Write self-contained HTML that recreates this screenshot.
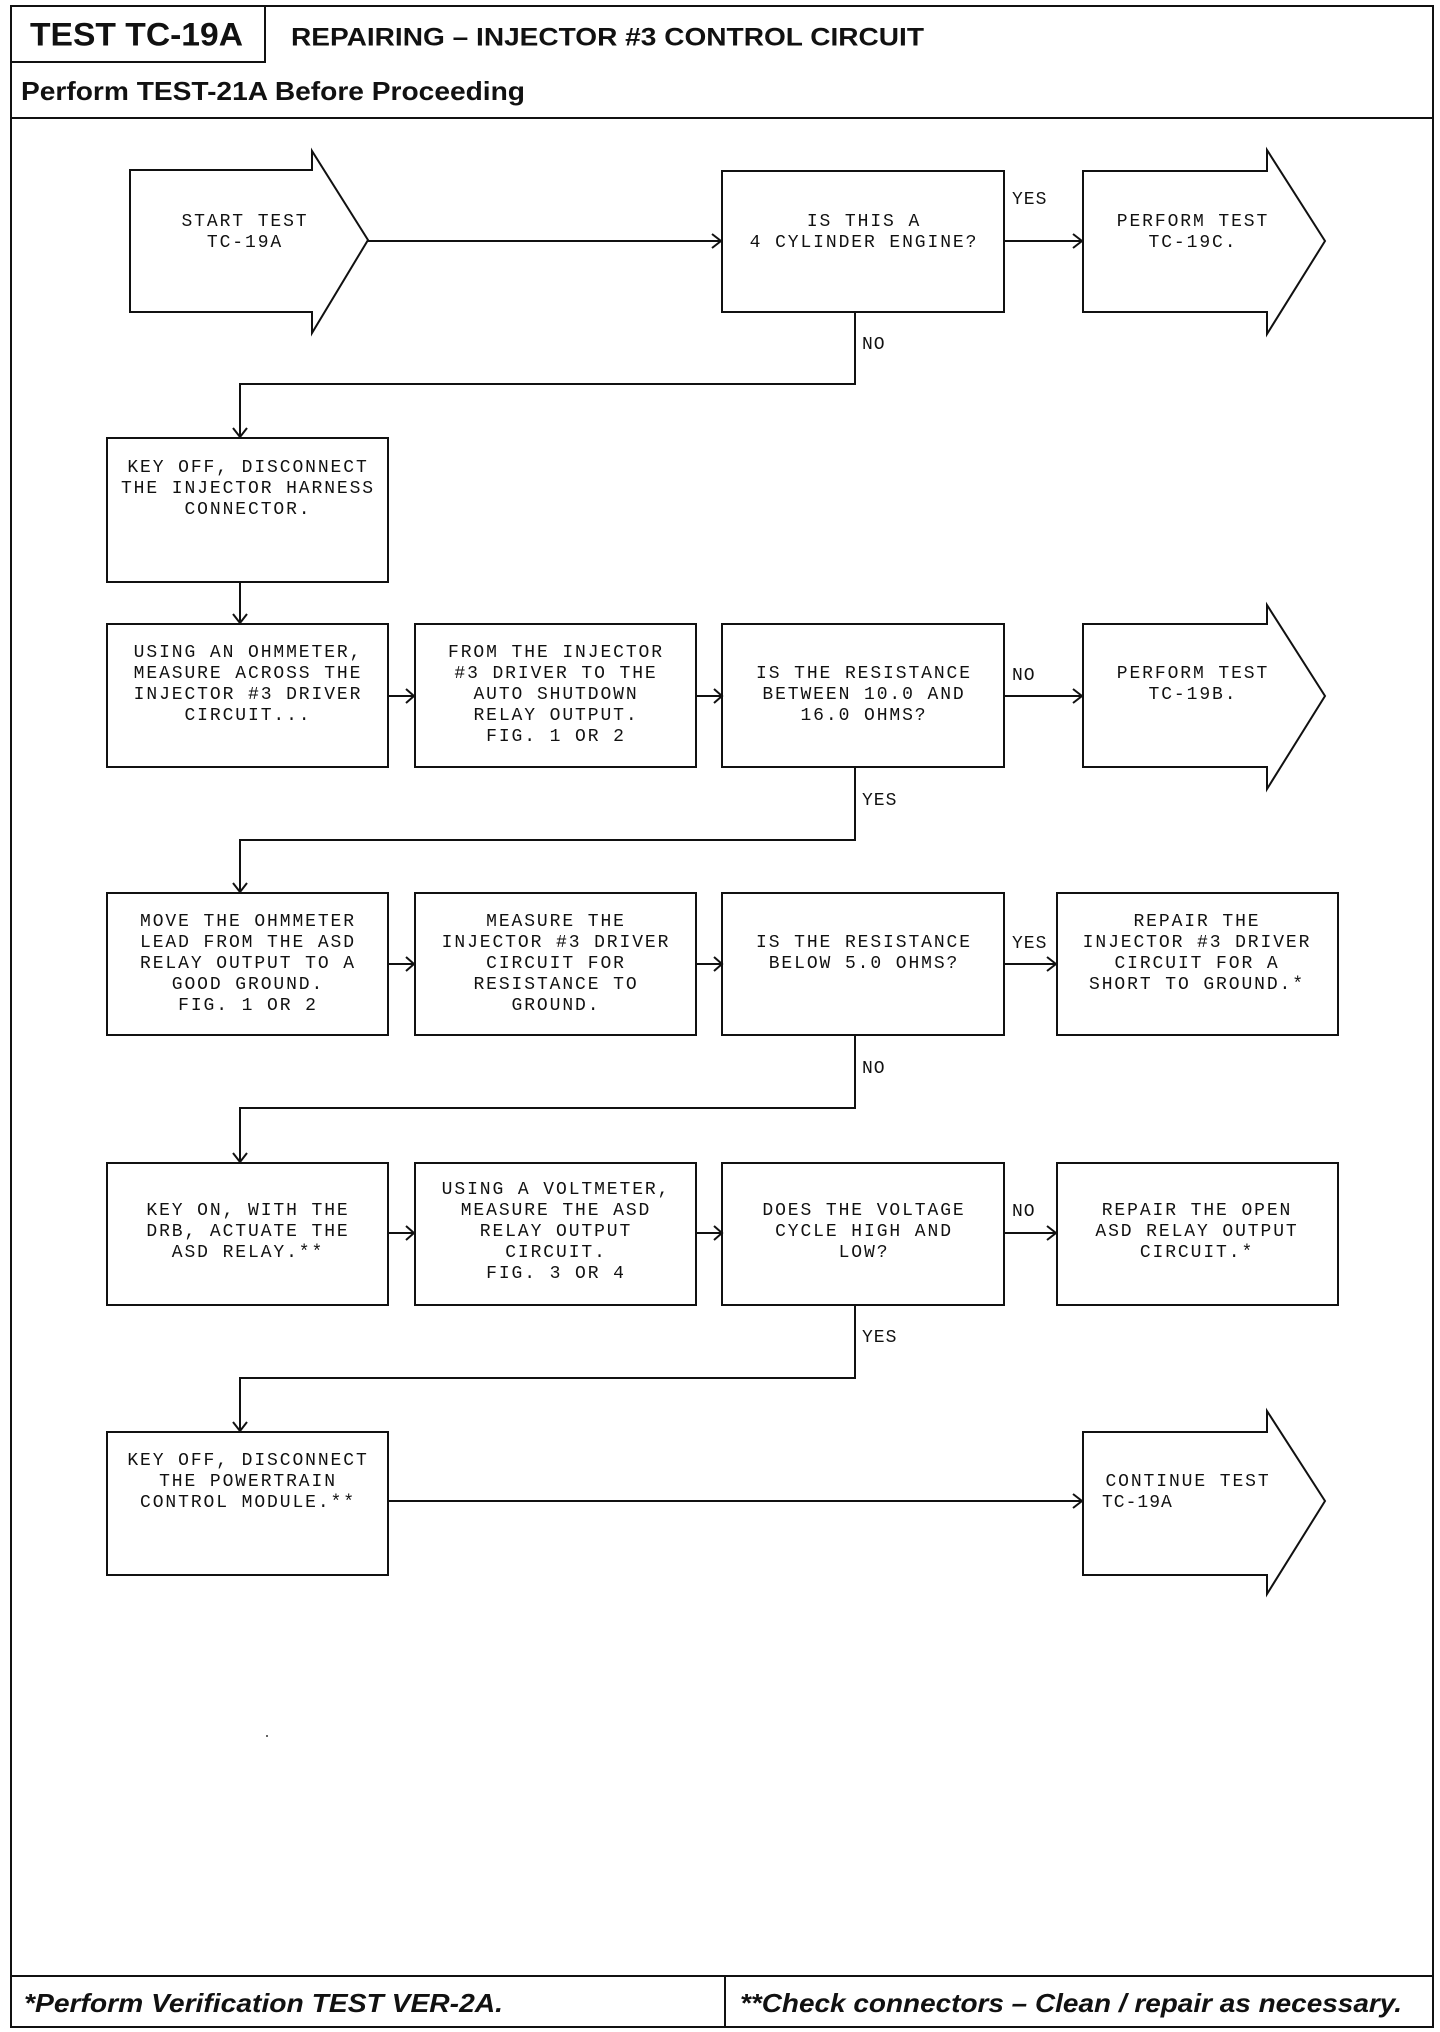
<!DOCTYPE html>
<html><head><meta charset="utf-8"><style>
html,body{margin:0;padding:0;background:#fff}
svg{display:block}
.t{font-family:"Liberation Mono",monospace;font-size:18px;letter-spacing:1.9px;fill:#111;text-anchor:middle;dominant-baseline:middle}
.l{font-family:"Liberation Mono",monospace;font-size:18px;letter-spacing:1px;fill:#111;dominant-baseline:middle}
.s{stroke:#111;stroke-width:2;fill:none}
.h{font-family:"Liberation Sans",sans-serif;font-weight:bold;fill:#111;dominant-baseline:middle}
</style></head><body>
<svg width="1440" height="2032" viewBox="0 0 1440 2032" xmlns="http://www.w3.org/2000/svg">
<!-- frame -->
<rect x="11" y="6" width="1422" height="2021" class="s" stroke-width="2.5"/>
<polyline points="11,62 265,62 265,6" class="s"/>
<line x1="11" y1="118" x2="1433" y2="118" class="s" stroke-width="3"/>
<line x1="11" y1="1976" x2="1433" y2="1976" class="s" stroke-width="3"/>
<line x1="725" y1="1976" x2="725" y2="2027" class="s"/>
<text class="h" x="30" y="37" font-size="32" textLength="213" lengthAdjust="spacingAndGlyphs">TEST TC-19A</text>
<text class="h" x="291" y="39" font-size="25" textLength="633" lengthAdjust="spacingAndGlyphs">REPAIRING – INJECTOR #3 CONTROL CIRCUIT</text>
<text class="h" x="21" y="93" font-size="26" textLength="504" lengthAdjust="spacingAndGlyphs">Perform TEST-21A Before Proceeding</text>
<text class="h" x="24" y="2005" font-size="26" font-style="italic" textLength="479" lengthAdjust="spacingAndGlyphs">*Perform Verification TEST VER-2A.</text>
<text class="h" x="740" y="2005" font-size="26" font-style="italic" textLength="662" lengthAdjust="spacingAndGlyphs">**Check connectors – Clean / repair as necessary.</text>

<!-- row 1 -->
<polygon points="130,170 312,170 312,151 368,240 312,333 312,312 130,312" class="s"/>
<text class="t" x="245" y="221">START TEST</text><text class="t" x="245" y="242">TC-19A</text>
<line x1="368" y1="241" x2="720" y2="241" class="s"/><polyline points="712,234 721,241 712,248" class="s"/>
<rect x="722" y="171" width="282" height="141" class="s"/>
<text class="t" x="864" y="221">IS THIS A</text><text class="t" x="864" y="242">4 CYLINDER ENGINE?</text>
<line x1="1004" y1="241" x2="1081" y2="241" class="s"/><polyline points="1073,234 1082,241 1073,248" class="s"/>
<text class="l" x="1012" y="199">YES</text>
<polygon points="1083,171 1267,171 1267,150 1325,241 1267,334 1267,312 1083,312" class="s"/>
<text class="t" x="1193" y="221">PERFORM TEST</text><text class="t" x="1193" y="242">TC-19C.</text>
<polyline points="855,312 855,384 240,384 240,436" class="s"/><polyline points="233,428 240,437 247,428" class="s"/>
<text class="l" x="862" y="344">NO</text>

<rect x="107" y="438" width="281" height="144" class="s"/>
<text class="t" x="248" y="467">KEY OFF, DISCONNECT</text><text class="t" x="248" y="488">THE INJECTOR HARNESS</text><text class="t" x="248" y="509">CONNECTOR.</text>
<line x1="240" y1="582" x2="240" y2="622" class="s"/><polyline points="233,614 240,623 247,614" class="s"/>

<!-- row 2 -->
<rect x="107" y="624" width="281" height="143" class="s"/>
<text class="t" x="248" y="652">USING AN OHMMETER,</text><text class="t" x="248" y="673">MEASURE ACROSS THE</text><text class="t" x="248" y="694">INJECTOR #3 DRIVER</text><text class="t" x="248" y="715">CIRCUIT...</text>
<line x1="388" y1="696" x2="413" y2="696" class="s"/><polyline points="406,689 414,696 406,703" class="s"/>
<rect x="415" y="624" width="281" height="143" class="s"/>
<text class="t" x="556" y="652">FROM THE INJECTOR</text><text class="t" x="556" y="673">#3 DRIVER TO THE</text><text class="t" x="556" y="694">AUTO SHUTDOWN</text><text class="t" x="556" y="715">RELAY OUTPUT.</text><text class="t" x="556" y="736">FIG. 1 OR 2</text>
<line x1="696" y1="696" x2="721" y2="696" class="s"/><polyline points="714,689 722,696 714,703" class="s"/>
<rect x="722" y="624" width="282" height="143" class="s"/>
<text class="t" x="864" y="673">IS THE RESISTANCE</text><text class="t" x="864" y="694">BETWEEN 10.0 AND</text><text class="t" x="864" y="715">16.0 OHMS?</text>
<line x1="1004" y1="696" x2="1081" y2="696" class="s"/><polyline points="1073,689 1082,696 1073,703" class="s"/>
<text class="l" x="1012" y="675">NO</text>
<polygon points="1083,624 1267,624 1267,605 1325,696 1267,789 1267,767 1083,767" class="s"/>
<text class="t" x="1193" y="673">PERFORM TEST</text><text class="t" x="1193" y="694">TC-19B.</text>
<polyline points="855,767 855,840 240,840 240,891" class="s"/><polyline points="233,883 240,892 247,883" class="s"/>
<text class="l" x="862" y="800">YES</text>

<!-- row 3 -->
<rect x="107" y="893" width="281" height="142" class="s"/>
<text class="t" x="248" y="921">MOVE THE OHMMETER</text><text class="t" x="248" y="942">LEAD FROM THE ASD</text><text class="t" x="248" y="963">RELAY OUTPUT TO A</text><text class="t" x="248" y="984">GOOD GROUND.</text><text class="t" x="248" y="1005">FIG. 1 OR 2</text>
<line x1="388" y1="964" x2="413" y2="964" class="s"/><polyline points="406,957 414,964 406,971" class="s"/>
<rect x="415" y="893" width="281" height="142" class="s"/>
<text class="t" x="556" y="921">MEASURE THE</text><text class="t" x="556" y="942">INJECTOR #3 DRIVER</text><text class="t" x="556" y="963">CIRCUIT FOR</text><text class="t" x="556" y="984">RESISTANCE TO</text><text class="t" x="556" y="1005">GROUND.</text>
<line x1="696" y1="964" x2="721" y2="964" class="s"/><polyline points="714,957 722,964 714,971" class="s"/>
<rect x="722" y="893" width="282" height="142" class="s"/>
<text class="t" x="864" y="942">IS THE RESISTANCE</text><text class="t" x="864" y="963">BELOW 5.0 OHMS?</text>
<line x1="1004" y1="964" x2="1055" y2="964" class="s"/><polyline points="1047,957 1056,964 1047,971" class="s"/>
<text class="l" x="1012" y="943">YES</text>
<rect x="1057" y="893" width="281" height="142" class="s"/>
<text class="t" x="1197" y="921">REPAIR THE</text><text class="t" x="1197" y="942">INJECTOR #3 DRIVER</text><text class="t" x="1197" y="963">CIRCUIT FOR A</text><text class="t" x="1197" y="984">SHORT TO GROUND.*</text>
<polyline points="855,1035 855,1108 240,1108 240,1161" class="s"/><polyline points="233,1153 240,1162 247,1153" class="s"/>
<text class="l" x="862" y="1068">NO</text>

<!-- row 4 -->
<rect x="107" y="1163" width="281" height="142" class="s"/>
<text class="t" x="248" y="1210">KEY ON, WITH THE</text><text class="t" x="248" y="1231">DRB, ACTUATE THE</text><text class="t" x="248" y="1252">ASD RELAY.**</text>
<line x1="388" y1="1233" x2="413" y2="1233" class="s"/><polyline points="406,1226 414,1233 406,1240" class="s"/>
<rect x="415" y="1163" width="281" height="142" class="s"/>
<text class="t" x="556" y="1189">USING A VOLTMETER,</text><text class="t" x="556" y="1210">MEASURE THE ASD</text><text class="t" x="556" y="1231">RELAY OUTPUT</text><text class="t" x="556" y="1252">CIRCUIT.</text><text class="t" x="556" y="1273">FIG. 3 OR 4</text>
<line x1="696" y1="1233" x2="721" y2="1233" class="s"/><polyline points="714,1226 722,1233 714,1240" class="s"/>
<rect x="722" y="1163" width="282" height="142" class="s"/>
<text class="t" x="864" y="1210">DOES THE VOLTAGE</text><text class="t" x="864" y="1231">CYCLE HIGH AND</text><text class="t" x="864" y="1252">LOW?</text>
<line x1="1004" y1="1233" x2="1055" y2="1233" class="s"/><polyline points="1047,1226 1056,1233 1047,1240" class="s"/>
<text class="l" x="1012" y="1211">NO</text>
<rect x="1057" y="1163" width="281" height="142" class="s"/>
<text class="t" x="1197" y="1210">REPAIR THE OPEN</text><text class="t" x="1197" y="1231">ASD RELAY OUTPUT</text><text class="t" x="1197" y="1252">CIRCUIT.*</text>
<polyline points="855,1305 855,1378 240,1378 240,1430" class="s"/><polyline points="233,1422 240,1431 247,1422" class="s"/>
<text class="l" x="862" y="1337">YES</text>

<!-- row 5 -->
<rect x="107" y="1432" width="281" height="143" class="s"/>
<text class="t" x="248" y="1460">KEY OFF, DISCONNECT</text><text class="t" x="248" y="1481">THE POWERTRAIN</text><text class="t" x="248" y="1502">CONTROL MODULE.**</text>
<line x1="388" y1="1501" x2="1081" y2="1501" class="s"/><polyline points="1073,1494 1082,1501 1073,1508" class="s"/>
<polygon points="1083,1432 1267,1432 1267,1411 1325,1501 1267,1594 1267,1575 1083,1575" class="s"/>
<text class="t" x="1188" y="1481">CONTINUE TEST</text><text class="l" x="1102" y="1502" letter-spacing="1.9">TC-19A</text>
<circle cx="267" cy="1736" r="1" fill="#333"/>
</svg>
</body></html>
